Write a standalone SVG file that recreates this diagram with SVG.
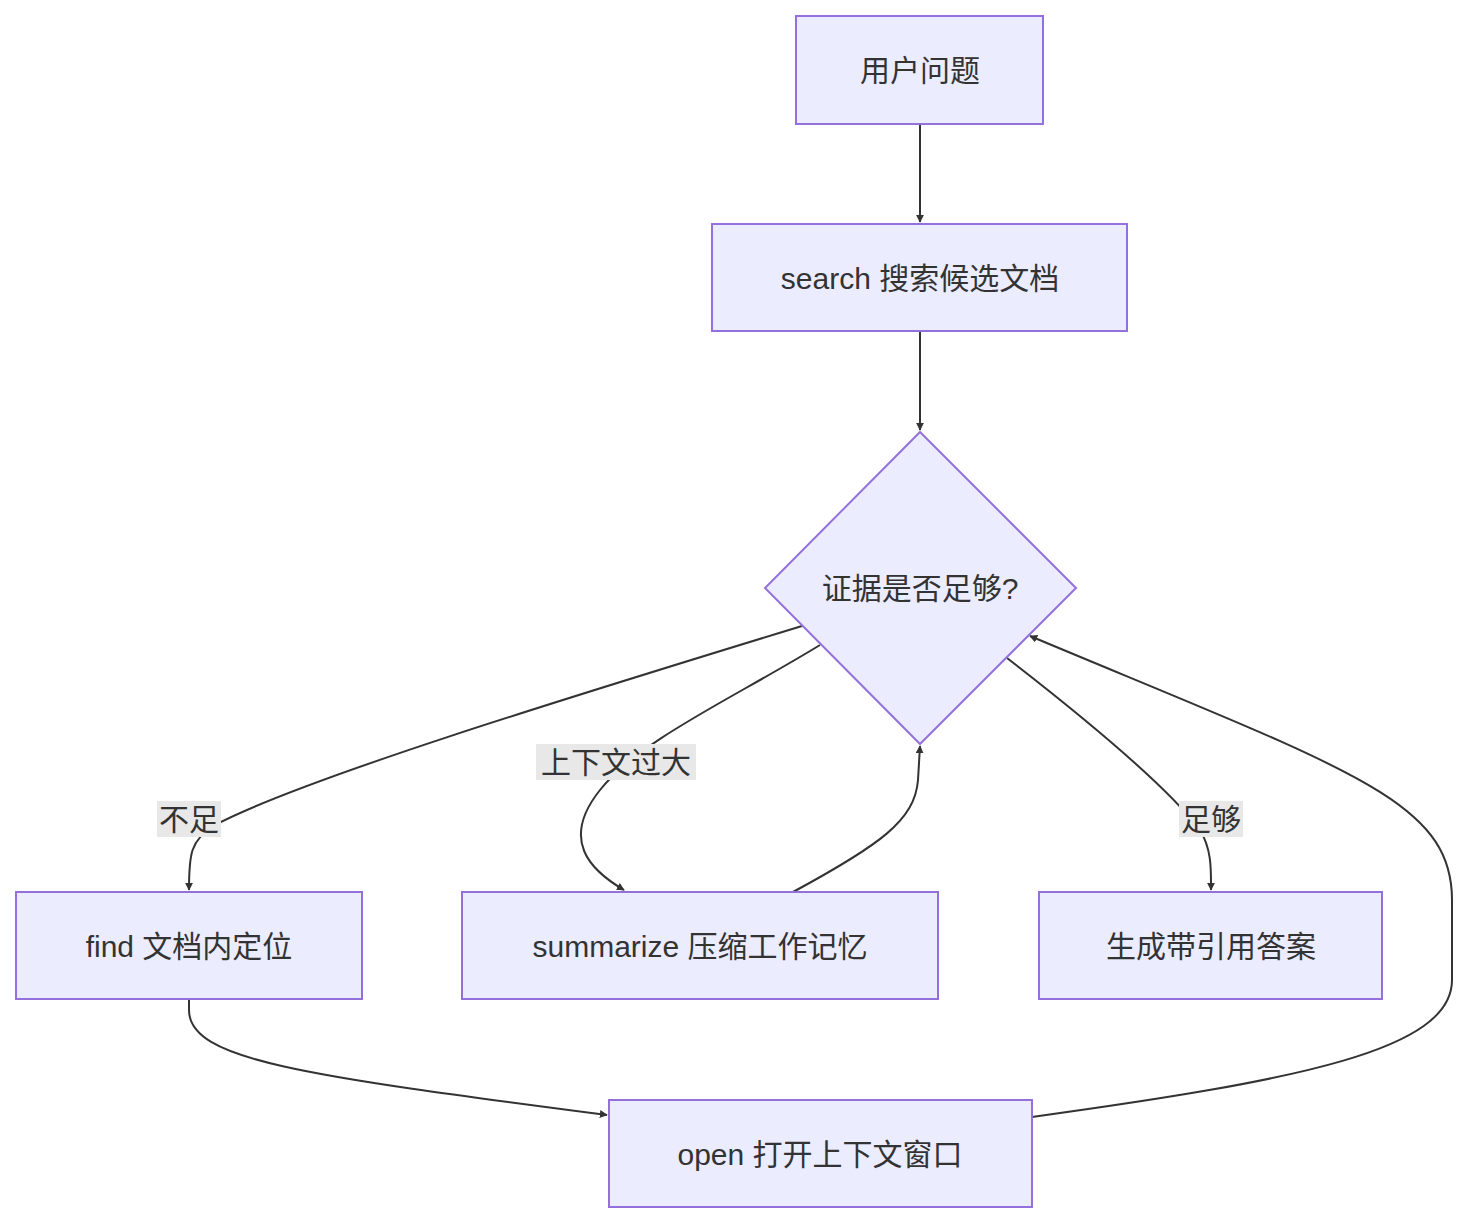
<svg xmlns="http://www.w3.org/2000/svg" width="1468" height="1223" viewBox="0 0 1468 1223">
<defs>
<marker id="arr" viewBox="0 0 10 10" refX="9" refY="5" markerWidth="8" markerHeight="8" markerUnits="userSpaceOnUse" orient="auto"><path d="M0,0 L10,5 L0,10 z" fill="#333"/></marker>
<style>
.n{fill:#ECECFF;stroke:#9370DB;stroke-width:2}
.t{font-family:"Liberation Sans","Noto Sans CJK SC",sans-serif;font-size:30px;fill:#333;text-anchor:middle;dominant-baseline:central}
.e{fill:none;stroke:#333;stroke-width:2;marker-end:url(#arr)}
.lb{fill:#e8e8e8}
</style>
</defs>
<rect width="1468" height="1223" fill="#fff"/>
<g id="edges">
<path class="e" d="M920,124 L920,222"/>
<path class="e" d="M920,331 L920,430"/>
<path class="e" d="M802,626 C560,700 300,780 215,825 C190,840 189,855 189,890"/>
<path class="e" d="M820,645 C730,700 640,740 600,790 C560,840 590,870 624,890"/>
<path class="e" d="M1007,658 C1100,730 1170,790 1200,830 C1212,850 1211,870 1211,890"/>
<path class="e" d="M793,892 C880,845 915,820 918,780 L920,746"/>
<path class="e" d="M189,999 L189,1010 C189,1060 300,1075 607,1115"/>
<path class="e" d="M1032,1117 C1300,1080 1452,1050 1452,980 L1452,900 C1452,800 1350,770 1030,636"/>
<rect class="lb" x="157" y="801" width="64" height="36"/><text class="t" x="189" y="819">不足</text>
<rect class="lb" x="536" y="744" width="160" height="36"/><text class="t" x="616" y="762">上下文过大</text>
<rect class="lb" x="1179" y="801" width="64" height="36"/><text class="t" x="1211" y="819">足够</text>
</g>
<g id="A"><rect class="n" x="796" y="16" width="247" height="108"/><text class="t" x="920" y="70">用户问题</text></g>
<g id="B"><rect class="n" x="712" y="224" width="415" height="107"/><text class="t" x="920" y="278">search 搜索候选文档</text></g>
<g id="C"><polygon class="n" points="920,432 1076,588 920,744 765,588"/><text class="t" x="920" y="588">证据是否足够?</text></g>
<g id="D"><rect class="n" x="16" y="892" width="346" height="107"/><text class="t" x="189" y="946">find 文档内定位</text></g>
<g id="E"><rect class="n" x="462" y="892" width="476" height="107"/><text class="t" x="700" y="946">summarize 压缩工作记忆</text></g>
<g id="F"><rect class="n" x="1039" y="892" width="343" height="107"/><text class="t" x="1211" y="946">生成带引用答案</text></g>
<g id="G"><rect class="n" x="609" y="1100" width="423" height="107"/><text class="t" x="820" y="1154">open 打开上下文窗口</text></g>
</svg>
